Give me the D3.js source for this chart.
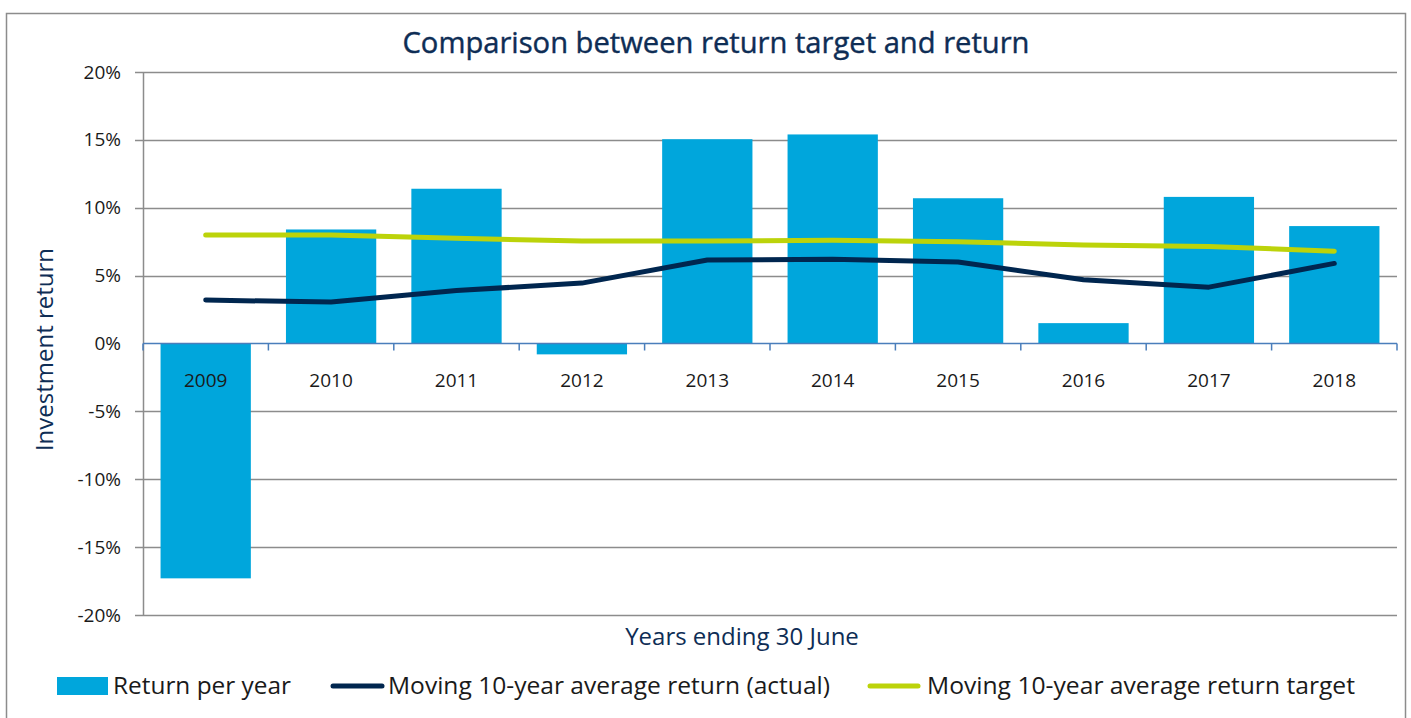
<!DOCTYPE html>
<html>
<head>
<meta charset="utf-8">
<script src="https://cdn.jsdelivr.net/npm/d3@7"></script>
<style>
  body { margin: 0; background: #fff; }
  text { font-family: "Open Sans", "Noto Sans", sans-serif; }
</style>
</head>
<body>
<div id="container"></div>
<script>
/* DATA */
const years = ["2009", "2010", "2011", "2012", "2013", "2014", "2015", "2016", "2017", "2018"];
const returnPerYear = [-17.3, 8.4, 11.4, -0.8, 15.05, 15.4, 10.7, 1.5, 10.8, 8.65];
const movingActual = [3.2, 3.05, 3.9, 4.45, 6.15, 6.2, 6.0, 4.7, 4.15, 5.9];
const movingTarget = [8.0, 8.0, 7.75, 7.55, 7.55, 7.6, 7.5, 7.25, 7.15, 6.8];
const yTicks = [-20, -15, -10, -5, 0, 5, 10, 15, 20];
const legendLabels = ["Return per year", "Moving 10-year average return (actual)", "Moving 10-year average return target"];

/* CONSTANTS */
const width = 1411, height = 718;
const margin = {top: 72, bottom: 103, left: 143, right: 14};

const barColor = "#00a6dc",
      actualColor = "#00264f",
      targetColor = "#bcd30a",
      gridColor = "#8c8c8c",
      navy = "#0e2d55";

const svg = d3.select("#container")
  .append("svg")
  .attr("width", width)
  .attr("height", height);

// outer frame
svg.append("rect")
  .attr("x", 6.5).attr("y", 13.5)
  .attr("width", 1399).attr("height", 710)
  .attr("fill", "none")
  .attr("stroke", "#8c8c8c")
  .attr("stroke-width", 1.5);

// Scales
const xScale = d3.scaleBand()
  .domain(years)
  .range([margin.left, width - margin.right])
  .paddingInner(0.28)
  .paddingOuter(0.14);

const yScale = d3.scaleLinear()
  .domain([-20, 20])
  .range([height - margin.bottom, margin.top]);

const step = xScale.step();

// gridlines
svg.append("g")
  .selectAll("line")
  .data(yTicks.filter(d => d !== 0))
  .join("line")
  .attr("x1", margin.left - 8)
  .attr("x2", width - margin.right)
  .attr("y1", d => Math.round(yScale(d)) + 0.5)
  .attr("y2", d => Math.round(yScale(d)) + 0.5)
  .attr("stroke", gridColor)
  .attr("stroke-width", 1.5);

// y axis line
svg.append("line")
  .attr("x1", margin.left + 0.5).attr("x2", margin.left + 0.5)
  .attr("y1", yScale(20)).attr("y2", yScale(-20))
  .attr("stroke", gridColor)
  .attr("stroke-width", 1.5);

// y axis labels
const yAxis = d3.axisLeft(yScale)
  .tickValues(yTicks)
  .tickFormat(d => d + "%")
  .tickSize(0)
  .tickPadding(22);
svg.append("g")
  .attr("transform", `translate(${margin.left},0)`)
  .call(yAxis)
  .call(g => g.select(".domain").remove())
  .call(g => g.selectAll("text")
    .style("font-size", "19px")
    .style("fill", "#1a1a1a")
    .style("font-family", "'Open Sans', sans-serif"));

// Bars
svg.append("g")
  .selectAll("rect")
  .data(returnPerYear)
  .join("rect")
  .attr("x", (d, i) => xScale(years[i]))
  .attr("width", xScale.bandwidth())
  .attr("y", d => yScale(Math.max(0, d)))
  .attr("height", d => Math.abs(yScale(d) - yScale(0)))
  .attr("fill", barColor);

// x axis at zero
const xAxisLine = svg.append("g");
xAxisLine.append("line")
  .attr("x1", margin.left).attr("x2", width - margin.right)
  .attr("y1", yScale(0)).attr("y2", yScale(0))
  .attr("stroke", "#4a7ebb")
  .attr("stroke-width", 1.5);
xAxisLine.selectAll("line.tick")
  .data(d3.range(years.length + 1))
  .join("line")
  .attr("class", "tick")
  .attr("x1", i => margin.left + i * step)
  .attr("x2", i => margin.left + i * step)
  .attr("y1", yScale(0))
  .attr("y2", yScale(0) + 7)
  .attr("stroke", "#4a7ebb")
  .attr("stroke-width", 1.5);

// x labels
svg.append("g")
  .selectAll("text")
  .data(years)
  .join("text")
  .attr("x", d => xScale(d) + xScale.bandwidth() / 2)
  .attr("y", yScale(0) + 43)
  .attr("text-anchor", "middle")
  .style("font-size", "19px")
  .style("fill", "#1a1a1a")
  .text(d => d);

// Lines
const lineGen = d3.line()
  .x((d, i) => xScale(years[i]) + xScale.bandwidth() / 2)
  .y(d => yScale(d));

svg.append("path")
  .datum(movingTarget)
  .attr("fill", "none")
  .attr("stroke", targetColor)
  .attr("stroke-width", 5)
  .attr("stroke-linecap", "round")
  .attr("stroke-linejoin", "round")
  .attr("d", lineGen);

svg.append("path")
  .datum(movingActual)
  .attr("fill", "none")
  .attr("stroke", actualColor)
  .attr("stroke-width", 5)
  .attr("stroke-linecap", "round")
  .attr("stroke-linejoin", "round")
  .attr("d", lineGen);

// Title
svg.append("text")
  .attr("x", 716)
  .attr("y", 53)
  .attr("text-anchor", "middle")
  .attr("textLength", 627)
  .attr("lengthAdjust", "spacingAndGlyphs")
  .style("font-size", "29px")
  .style("fill", navy)
  .style("stroke", navy)
  .style("stroke-width", 0.4)
  .text("Comparison between return target and return");

// Y label
svg.append("text")
  .attr("transform", `translate(53, ${yScale(0) + 6}) rotate(-90)`)
  .attr("text-anchor", "middle")
  .style("font-size", "24px")
  .style("fill", navy)
  .text("Investment return");

// X label
svg.append("text")
  .attr("x", 742)
  .attr("y", 645)
  .attr("text-anchor", "middle")
  .style("font-size", "24px")
  .style("fill", navy)
  .text("Years ending 30 June");

// Legend
const legend = svg.append("g").attr("transform", "translate(0, 686)");
legend.append("rect")
  .attr("x", 57).attr("y", -9).attr("width", 51).attr("height", 18)
  .attr("fill", barColor);
legend.append("line")
  .attr("x1", 333).attr("x2", 382).attr("y1", 0).attr("y2", 0)
  .attr("stroke", actualColor).attr("stroke-width", 5).attr("stroke-linecap", "round");
legend.append("line")
  .attr("x1", 870).attr("x2", 918).attr("y1", 0).attr("y2", 0)
  .attr("stroke", targetColor).attr("stroke-width", 5).attr("stroke-linecap", "round");

const legendX = [113, 388, 927];
const legendW = [178, 442, 428];
legend.selectAll("text.lbl")
  .data(legendLabels)
  .join("text")
  .attr("class", "lbl")
  .attr("x", (d, i) => legendX[i])
  .attr("y", 8)
  .attr("textLength", (d, i) => legendW[i])
  .attr("lengthAdjust", "spacingAndGlyphs")
  .style("font-size", "23px")
  .style("fill", "#1a1a1a")
  .text(d => d);
</script>
</body>
</html>
